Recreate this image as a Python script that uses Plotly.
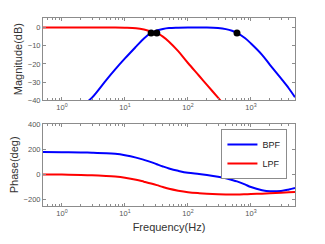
import plotly.graph_objects as go
from plotly.subplots import make_subplots

# Frequencies (Hz)
freq = [0.5, 1, 2, 3, 5, 7, 10, 15, 20, 26, 32, 40, 50, 70, 100, 150, 200, 300, 400,
        500, 600, 800, 1000, 1500, 2000, 3000, 4000, 5000]

# Magnitude (dB)
bpf_mag = [-68, -56, -44, -38.5, -29, -23, -17, -10.5, -6, -3, -1.7, -0.8, -0.3, -0.1, 0, 0, 0,
           -0.3, -0.9, -1.8, -3, -5.8, -8.8, -15, -20.5, -28, -33.5, -38.3]
lpf_mag = [0, 0, 0, 0, 0, 0, -0.1, -0.4, -1.1, -2.2, -3, -5, -7.8, -13, -19.5, -26.5, -31.5,
           -38.5, -43.5, -47, -50, -55, -59, -66, -71, -78, -83, -87]

# Phase (deg)
bpf_ph = [178, 176, 174, 172, 168, 163, 152, 133, 115, 97, 80, 62, 46, 27, 11, 2, -6,
          -20, -33, -46, -58, -82, -103, -128, -137, -134, -122, -110]
lpf_ph = [-2, -3, -6, -9, -14, -19, -28, -44, -60, -75, -88, -103, -117, -132, -144, -152, -156,
          -160, -162, -163, -163, -161, -159, -156, -153, -148, -145, -142]

# -3 dB points
mk_f = [26, 32, 600]
mk_db = [-3, -3, -3]

fig = make_subplots(rows=2, cols=1, vertical_spacing=0.124)

fig.add_trace(go.Scatter(x=freq, y=lpf_mag, mode="lines", line=dict(color="#ff0000", width=2, shape="spline"),
                         showlegend=False), row=1, col=1)
fig.add_trace(go.Scatter(x=freq, y=bpf_mag, mode="lines", line=dict(color="#0000ff", width=2, shape="spline"),
                         showlegend=False), row=1, col=1)
fig.add_trace(go.Scatter(x=mk_f, y=mk_db, mode="markers", marker=dict(color="black", size=7),
                         showlegend=False), row=1, col=1)

fig.add_trace(go.Scatter(x=freq, y=bpf_ph, mode="lines", name="BPF",
                         line=dict(color="#0000ff", width=2, shape="spline")), row=2, col=1)
fig.add_trace(go.Scatter(x=freq, y=lpf_ph, mode="lines", name="LPF",
                         line=dict(color="#ff0000", width=2, shape="spline")), row=2, col=1)

tickvals = [1, 10, 100, 1000]
ticktext = ["10<sup>0</sup>", "10<sup>1</sup>", "10<sup>2</sup>", "10<sup>3</sup>"]

axis_common = dict(showline=True, linecolor="#8c8c8c", linewidth=1, mirror="ticks",
                   ticks="inside", ticklen=3, tickcolor="#8c8c8c", showgrid=False, zeroline=False,
                   tickfont=dict(size=7.5, color="#555555"), automargin=True)

for r in (1, 2):
    fig.update_xaxes(type="log", range=[-0.301, 3.699], tickvals=tickvals, ticktext=ticktext,
                     minor=dict(ticks="inside", ticklen=2, tickcolor="#8c8c8c",
                                tickvals=[v * m for v in [0.1, 1, 10, 100, 1000] for m in range(2, 10)]),
                     row=r, col=1, **axis_common)

fig.update_yaxes(range=[-40, 5.2], tickvals=[0, -10, -20, -30, -40],
                 title=dict(text="Magnitude(dB)", font=dict(size=11, color="#333333"), standoff=2),
                 row=1, col=1, **axis_common)
fig.update_yaxes(range=[-255, 405], tickvals=[400, 200, 0, -200],
                 title=dict(text="Phase(deg)", font=dict(size=11, color="#333333"), standoff=2),
                 row=2, col=1, **axis_common)
fig.update_xaxes(title=dict(text="Frequency(Hz)", font=dict(size=11, color="#333333"), standoff=6),
                 row=2, col=1)

fig.update_layout(
    width=325, height=244,
    margin=dict(l=43, r=30, t=18, b=38, autoexpand=False),
    paper_bgcolor="white", plot_bgcolor="white",
    font=dict(family="Liberation Sans, Arial, sans-serif"),
    legend=dict(x=0.97, y=0.41, xanchor="right", yanchor="top",
                bordercolor="#8c8c8c", borderwidth=1, bgcolor="white",
                font=dict(size=9, color="#222222"), tracegroupgap=0,
                itemwidth=30),
)

fig.write_html("out.html", config={"displayModeBar": False},
               post_script="document.body.style.margin='0';")
